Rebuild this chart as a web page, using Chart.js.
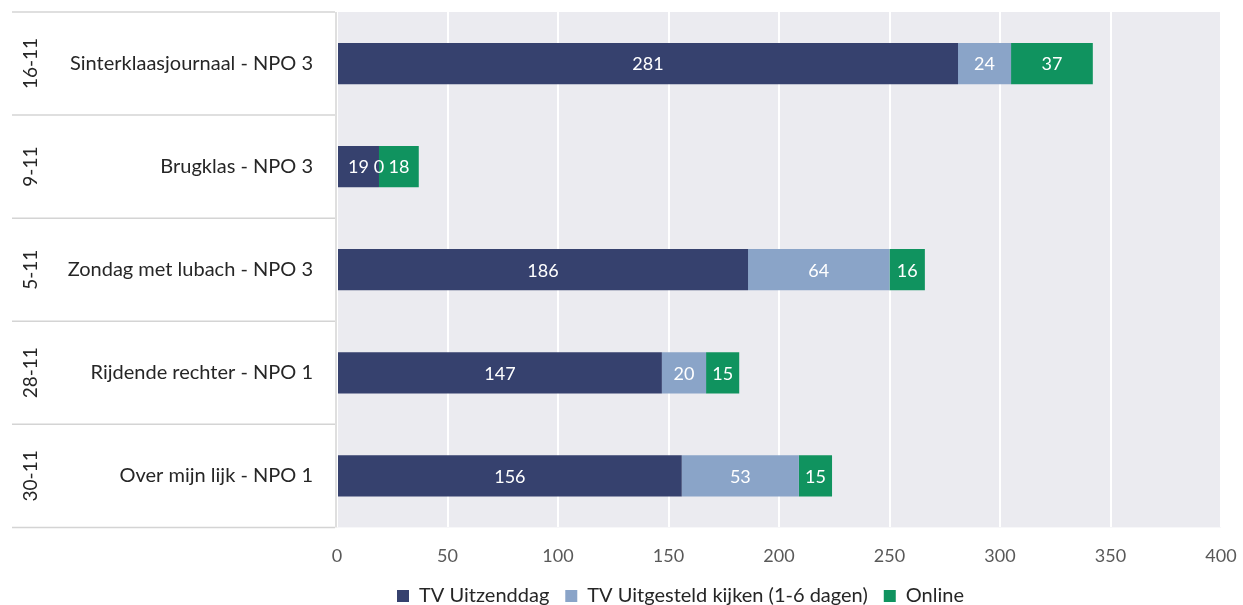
<!DOCTYPE html>
<html>
<head>
<meta charset="utf-8">
<script src="https://cdn.jsdelivr.net/npm/chart.js@4/dist/chart.umd.min.js"></script>
<style>
	html, body { margin: 0; padding: 0; background: #fff; }
	#wrap { width: 1243px; height: 605px; }
</style>
</head>
<body>
<div id="wrap"><canvas id="myChart"></canvas></div>
<script>
// programmes and their broadcast dates
var programmes = ['Sinterklaasjournaal - NPO 3', 'Brugklas - NPO 3', 'Zondag met lubach - NPO 3', 'Rijdende rechter - NPO 1', 'Over mijn lijk - NPO 1'];
var dates = ['16-11', '9-11', '5-11', '28-11', '30-11'];

// viewers per type
var tvUitzenddag = [281, 19, 186, 147, 156];
var tvUitgesteld = [24, 0, 64, 20, 53];
var online = [37, 18, 16, 15, 15];

var seriesNames = ['TV Uitzenddag', 'TV Uitgesteld kijken (1-6 dagen)', 'Online'];
var xTicks = [0, 50, 100, 150, 200, 250, 300, 350, 400];

var FONT = 'Lato, "Noto Sans", sans-serif';

//grey plot background + left label panel
const backdrop = {
	id: 'backdrop',
	beforeDraw(chart) {
		var ctx = chart.ctx, a = chart.chartArea;
		ctx.save();
		ctx.fillStyle = '#ebebf0';
		ctx.fillRect(a.left, a.top, a.right - a.left, a.bottom - a.top);
		ctx.restore();
	},
	afterDraw(chart) {
		var ctx = chart.ctx, a = chart.chartArea, y = chart.scales.y;
		var step = (a.bottom - a.top) / programmes.length;
		ctx.save();
		ctx.strokeStyle = '#d4d4d4';
		ctx.lineWidth = 1.5;
		for (var i = 0; i <= programmes.length; i++) {
			var py = a.top + i * step;
			ctx.beginPath();
			ctx.moveTo(12, py);
			ctx.lineTo(a.left - 2, py);
			ctx.stroke();
		}
		ctx.beginPath();
		ctx.moveTo(a.left - 1, a.top);
		ctx.lineTo(a.left - 1, a.bottom);
		ctx.stroke();
		//rotated dates
		ctx.fillStyle = '#262626';
		ctx.font = '19px ' + FONT;
		ctx.textAlign = 'center';
		ctx.textBaseline = 'middle';
		for (var j = 0; j < dates.length; j++) {
			ctx.save();
			ctx.translate(31, y.getPixelForValue(j));
			ctx.rotate(-Math.PI / 2);
			ctx.fillText(dates[j], 0, 0);
			ctx.restore();
		}
		ctx.restore();
	}
};

//value labels inside the segments
const valueLabels = {
	id: 'valueLabels',
	afterDatasetsDraw(chart) {
		var ctx = chart.ctx;
		ctx.save();
		ctx.fillStyle = '#ffffff';
		ctx.font = '18px ' + FONT;
		ctx.textAlign = 'center';
		ctx.textBaseline = 'middle';
		chart.data.datasets.forEach(function (ds, di) {
			chart.getDatasetMeta(di).data.forEach(function (bar, i) {
				var cx = (bar.x + bar.base) / 2;
				ctx.fillText(ds.data[i], cx, bar.y + 1);
			});
		});
		ctx.restore();
	}
};

//squeeze the legend box so the plot reaches down like the original
const legendFit = {
	id: 'legendFit',
	beforeInit(chart) {
		var fit = chart.legend.fit;
		chart.legend.fit = function () {
			fit.call(this);
			this.height = 20;
		};
	},
	afterLayout(chart) {
		var lg = chart.legend;
		lg.top -= 15;
		lg.bottom = chart.height;
		lg.height = lg.bottom - lg.top;
		//original legend sits a bit right of centre
		lg.left += 128;
		lg.width = lg.right - lg.left;
	}
};

var ctx = document.getElementById('myChart').getContext('2d');
var chart = new Chart(ctx, {
	type: 'bar',
	data: {
		labels: programmes,
		datasets: [
			{ label: seriesNames[0], data: tvUitzenddag, backgroundColor: '#36416e' },
			{ label: seriesNames[1], data: tvUitgesteld, backgroundColor: '#8aa4c8' },
			{ label: seriesNames[2], data: online, backgroundColor: '#10935f' }
		]
	},
	options: {
		indexAxis: 'y',
		responsive: true,
		maintainAspectRatio: false,
		animation: false,
		datasets: {
			bar: { categoryPercentage: 1, barPercentage: 0.4, borderWidth: 0 }
		},
		layout: { padding: { left: 12, top: 12, right: 22, bottom: 0 } },
		scales: {
			x: {
				stacked: true,
				min: 0,
				max: 400,
				afterBuildTicks(scale) {
					scale.ticks = xTicks.map(function (v) { return { value: v }; });
				},
				afterFit(scale) { scale.paddingLeft = 0; scale.paddingRight = 0; },
				grid: { color: '#ffffff', lineWidth: 2, drawTicks: false },
				border: { display: false },
				ticks: { color: '#595959', font: { family: FONT, size: 18 }, padding: 18 }
			},
			y: {
				stacked: true,
				grid: { display: false },
				border: { display: false },
				afterFit(scale) { scale.width = 325; scale.paddingTop = 0; scale.paddingBottom = 0; },
				ticks: { color: '#262626', font: { family: FONT, size: 20 }, padding: 16 }
			}
		},
		plugins: {
			legend: {
				position: 'bottom',
				labels: {
					color: '#262626',
					font: { family: FONT, size: 20 },
					boxWidth: 12,
					boxHeight: 12,
					padding: 16
				}
			},
			tooltip: { enabled: false }
		}
	},
	plugins: [backdrop, valueLabels, legendFit]
});
</script>
</body>
</html>
